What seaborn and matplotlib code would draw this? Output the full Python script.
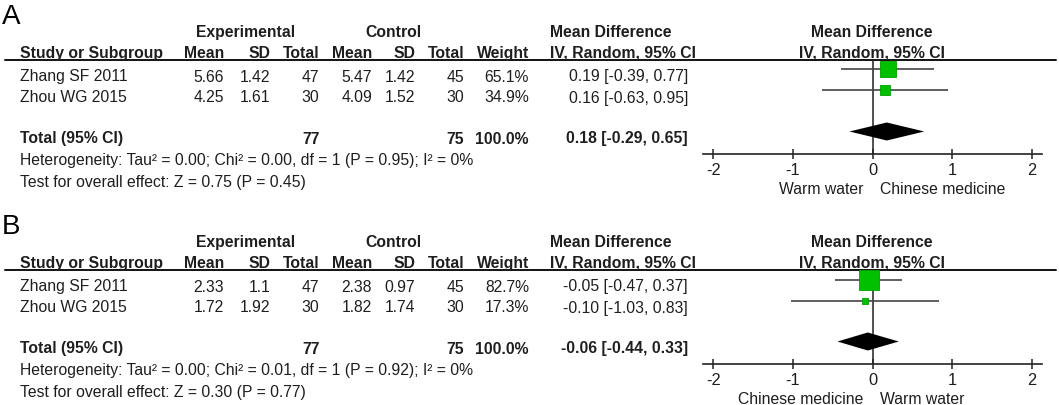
import numpy as np
import matplotlib
matplotlib.use("Agg")
import matplotlib.pyplot as plt
import seaborn as sns

# ---- data -------------------------------------------------------------
studies = ["Zhang SF 2011", "Zhou WG 2015"]

a_exp_mean = [5.66, 4.25]
a_exp_sd = [1.42, 1.61]
a_exp_n = [47, 30]
a_ctl_mean = [5.47, 4.09]
a_ctl_sd = [1.42, 1.52]
a_ctl_n = [45, 30]
a_weight = [65.1, 34.9]
a_md = [0.19, 0.16]
a_lo = [-0.39, -0.63]
a_hi = [0.77, 0.95]
a_total = [0.18, -0.29, 0.65]
a_total_n = [77, 75]
a_het = "Heterogeneity: Tau² = 0.00; Chi² = 0.00, df = 1 (P = 0.95); I² = 0%"
a_test = "Test for overall effect: Z = 0.75 (P = 0.45)"
a_favours = ["Warm water", "Chinese medicine"]

b_exp_mean = [2.33, 1.72]
b_exp_sd = [1.1, 1.92]
b_exp_n = [47, 30]
b_ctl_mean = [2.38, 1.82]
b_ctl_sd = [0.97, 1.74]
b_ctl_n = [45, 30]
b_weight = [82.7, 17.3]
b_md = [-0.05, -0.10]
b_lo = [-0.47, -1.03]
b_hi = [0.37, 0.83]
b_total = [-0.06, -0.44, 0.33]
b_total_n = [77, 75]
b_het = "Heterogeneity: Tau² = 0.00; Chi² = 0.01, df = 1 (P = 0.92); I² = 0%"
b_test = "Test for overall effect: Z = 0.30 (P = 0.77)"
b_favours = ["Chinese medicine", "Warm water"]

x_ticks = [-2, -1, 0, 1, 2]

# ---- style ------------------------------------------------------------
sns.set_theme(style="white")
plt.rcParams["font.family"] = ["Liberation Sans", "DejaVu Sans"]

W, H = 1059, 405
TXT = "#1e1e1e"
GREEN = "#00c000"
FS = 11.3

fig = plt.figure(figsize=(W / 100, H / 100), dpi=100)
ax0 = fig.add_axes([0, 0, 1, 1])
ax0.set_xlim(0, W)
ax0.set_ylim(H, 0)
ax0.axis("off")

# forest axis geometry in pixels
PX_LEFT, PX_RIGHT = 702.7, 1041.7
PX_M2, PX_P2 = 713.3, 1031.7
UNIT = (PX_P2 - PX_M2) / 4
XLIM = (-2 - (PX_M2 - PX_LEFT) / UNIT, 2 + (PX_RIGHT - PX_P2) / UNIT)


def txt(x, y, s, ha="left", bold=False, size=FS, color=TXT):
    ax0.text(x, y, s, ha=ha, va="baseline", fontsize=size, color=color,
             fontweight="bold" if bold else "normal")


def draw_panel(off, letter, exp_mean, exp_sd, exp_n, ctl_mean, ctl_sd, ctl_n,
               weight, md, lo, hi, total, total_n, het, test, favours):
    txt(2, 24 + off, letter, size=20, color="black")

    # header
    txt(246, 37 + off, "Experimental", ha="center", bold=True)
    txt(393, 37 + off, "Control", ha="center", bold=True)
    txt(550, 37 + off, "Mean Difference", bold=True)
    txt(872, 37 + off, "Mean Difference", ha="center", bold=True)

    cols = [(20, "Study or Subgroup", "left"), (224, "Mean", "right"),
            (270, "SD", "right"), (319.5, "Total", "right"),
            (372, "Mean", "right"), (415, "SD", "right"),
            (464, "Total", "right"), (529, "Weight", "right"),
            (550, "IV, Random, 95% CI", "left"),
            (872, "IV, Random, 95% CI", "center")]
    for x, s, ha in cols:
        txt(x, 58 + off, s, ha=ha, bold=True)
    ax0.plot([5, 1056], [60 + off, 60 + off], color="#111111", lw=1.4)

    # study rows
    rows = [81.5 + off, 102.5 + off]
    for i, yb in enumerate(rows):
        txt(20, yb, studies[i])
        txt(224, yb, f"{exp_mean[i]:g}", ha="right")
        txt(270, yb, f"{exp_sd[i]:g}", ha="right")
        txt(319.5, yb, f"{exp_n[i]}", ha="right")
        txt(372, yb, f"{ctl_mean[i]:g}", ha="right")
        txt(415, yb, f"{ctl_sd[i]:g}", ha="right")
        txt(464, yb, f"{ctl_n[i]}", ha="right")
        txt(529, yb, f"{weight[i]:.1f}%", ha="right")
        txt(688, yb, f"{md[i]:.2f} [{lo[i]:.2f}, {hi[i]:.2f}]", ha="right")

    yt = 143.5 + off
    txt(20, yt, "Total (95% CI)", bold=True)
    txt(319.5, yt, f"{total_n[0]}", ha="right", bold=True)
    txt(464, yt, f"{total_n[1]}", ha="right", bold=True)
    txt(529, yt, f"{sum(weight):.1f}%", ha="right", bold=True)
    txt(688, yt, f"{total[0]:.2f} [{total[1]:.2f}, {total[2]:.2f}]",
        ha="right", bold=True)
    txt(20, 164.5 + off, het)
    txt(20, 187 + off, test)

    # favours labels
    zero_px = PX_M2 + 2 * UNIT
    txt(zero_px - 9, 193.5 + off, favours[0], ha="right")
    txt(zero_px + 8, 193.5 + off, favours[1], ha="left")

    # forest axes: y data in pixel units
    y_top, y_axis = 60 + off, 154 + off
    ax = fig.add_axes([PX_LEFT / W, 1 - y_axis / H,
                       (PX_RIGHT - PX_LEFT) / W, (y_axis - y_top) / H])
    ax.set_xlim(*XLIM)
    ax.set_ylim(y_axis, y_top)
    ax.patch.set_alpha(0)
    ax.axvline(0, color="#222222", lw=1.1, zorder=1)

    ys = [r - 12 for r in rows]
    for i in range(len(studies)):
        ax.hlines(ys[i], lo[i], hi[i], color="#444444", lw=1.2, zorder=2)
        side_pt = 0.70 * weight[i] ** 0.75 * 0.72
        sns.scatterplot(x=[md[i]], y=[ys[i]], marker="s", s=side_pt ** 2,
                        color=GREEN, edgecolor="#00a000", linewidth=0.6,
                        ax=ax, zorder=3, legend=False)
    yd = yt - 12
    ax.fill([total[1], total[0], total[2], total[0]],
            [yd, yd - 9, yd, yd + 9], color="black", lw=0, zorder=3)

    ax.set_xticks(x_ticks)
    ax.set_xticklabels([f"{t}" for t in x_ticks], fontsize=FS + 0.5, color=TXT)
    ax.set_yticks([])
    ax.tick_params(axis="x", direction="inout", length=7.5, width=1.1,
                   color="#222222", pad=2.5, bottom=True)
    sns.despine(ax=ax, left=True, top=True, right=True)
    ax.spines["bottom"].set_color("#222222")
    ax.spines["bottom"].set_linewidth(1.2)
    ax.set_xlabel("")
    ax.set_ylabel("")


draw_panel(0, "A", a_exp_mean, a_exp_sd, a_exp_n, a_ctl_mean, a_ctl_sd,
           a_ctl_n, a_weight, a_md, a_lo, a_hi, a_total, a_total_n,
           a_het, a_test, a_favours)
draw_panel(210, "B", b_exp_mean, b_exp_sd, b_exp_n, b_ctl_mean, b_ctl_sd,
           b_ctl_n, b_weight, b_md, b_lo, b_hi, b_total, b_total_n,
           b_het, b_test, b_favours)

fig.savefig("out.png", dpi=100)
